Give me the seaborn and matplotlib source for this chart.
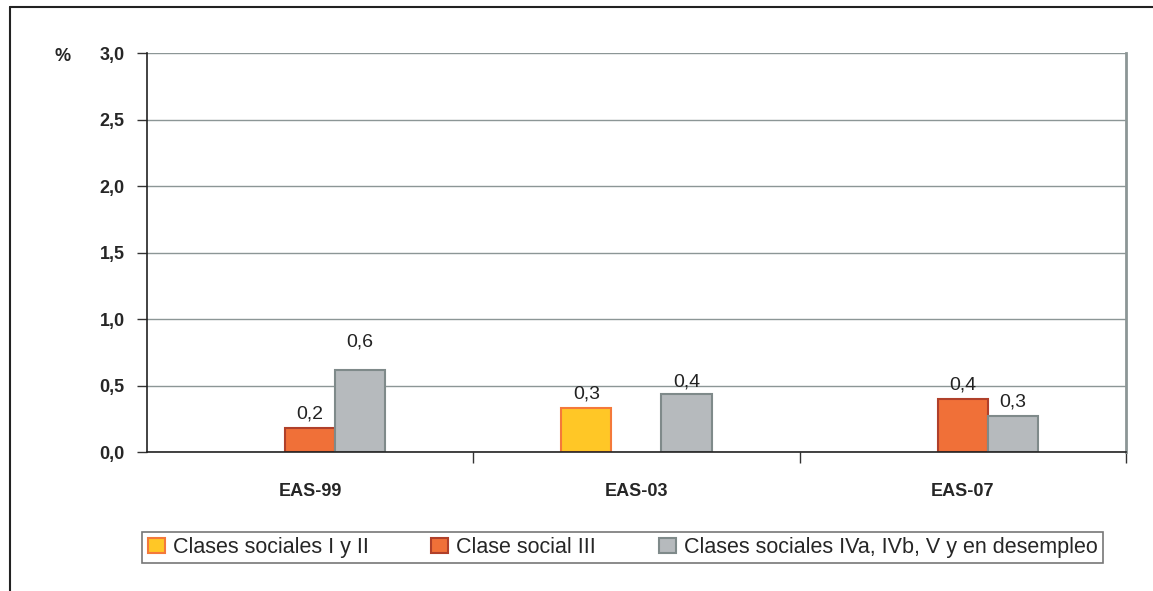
import matplotlib.pyplot as plt
from matplotlib.lines import Line2D
from matplotlib.patches import Patch
import seaborn as sns
import pandas as pd
import numpy as np

# data
surveys = ['EAS-99', 'EAS-03', 'EAS-07']
groups = ['Clases sociales I y II', 'Clase social III',
          'Clases sociales IVa, IVb, V y en desempleo']
vals_I_II = [np.nan, 0.33, np.nan]
vals_III = [0.18, np.nan, 0.40]
vals_IV_V = [0.62, 0.44, 0.27]
yticks = [0.0, 0.5, 1.0, 1.5, 2.0, 2.5, 3.0]

fills = ['#FFC726', '#F07038', '#B6BABD']
edges = ['#F4793A', '#B0402A', '#7F8A8A']

df = pd.DataFrame({
    'survey': surveys * 3,
    'group': [groups[0]] * 3 + [groups[1]] * 3 + [groups[2]] * 3,
    'value': vals_I_II + vals_III + vals_IV_V,
})

sns.set_style('white')
plt.rcParams['font.family'] = ['Liberation Sans', 'DejaVu Sans']

fig = plt.figure(figsize=(11.53, 5.91), dpi=100)
ax = fig.add_axes([0.1275, 0.235, 0.849, 0.675])

sns.barplot(data=df, x='survey', y='value', hue='group', order=surveys,
            hue_order=groups, palette=fills, width=0.46, ax=ax,
            legend=False, errorbar=None, saturation=1)

# colour edges per series
for cont, ec in zip(ax.containers, edges):
    for bar in cont:
        bar.set_edgecolor(ec)
        bar.set_linewidth(1.5)

# value labels, Excel-like placement
label_offsets = {(0, 1): 4, (0, 2): 14, (1, 0): 4, (1, 2): 2, (2, 1): 14, (2, 2): 4}
for gi, cont in enumerate(ax.containers):
    for si, bar in enumerate(cont):
        h = bar.get_height()
        if np.isnan(h) or h == 0:
            continue
        off = label_offsets.get((si, gi), 4)
        ax.annotate(f'{h:.1f}'.replace('.', ','),
                    (bar.get_x() + bar.get_width() / 2, h),
                    xytext=(0, off), textcoords='offset points',
                    ha='center', va='bottom', fontsize=14, color='#222222')

ax.set_ylim(0, 3.0)
ax.set_xlim(-0.5, 2.5)
ax.set_yticks(yticks)
ax.set_yticklabels([f'{t:.1f}'.replace('.', ',') for t in yticks],
                   fontsize=13, fontweight='bold')
ax.set_xticks(range(3))
ax.set_xticklabels(surveys, fontsize=13, fontweight='bold')
ax.set_xticks([0.5, 1.5, 2.5], minor=True)
ax.tick_params(axis='x', which='major', length=0, pad=22)
ax.tick_params(axis='x', which='minor', length=8, width=1, color='#333333', direction='out', bottom=True)
ax.tick_params(axis='y', length=7, width=1, color='#333333', direction='out', left=True, pad=9)
ax.set_xlabel('')
ax.set_ylabel('')

ax.grid(axis='y', color='#8C9696', linewidth=1)
ax.set_axisbelow(True)
for side in ['left', 'bottom']:
    ax.spines[side].set_color('#222222')
    ax.spines[side].set_linewidth(1.2)
ax.spines['top'].set_visible(False)
ax.spines['right'].set_color('#8C9696')
ax.spines['right'].set_linewidth(2)

fig.text(0.054, 0.905, '%', fontsize=13, fontweight='bold', ha='center', va='center')

handles = [Patch(facecolor=f, edgecolor=e, linewidth=1.5) for f, e in zip(fills, edges)]
leg = fig.legend(handles, groups, ncol=3, loc='center', bbox_to_anchor=(0.54, 0.0736),
                 fontsize=15.5, frameon=True, fancybox=False, edgecolor='#555555',
                 handlelength=0.8, handleheight=0.65, handletextpad=0.37, columnspacing=2.9,
                 borderpad=0.25)
leg.get_frame().set_linewidth(1.2)

# outer frame of the chart area (top and left edges)
fig.add_artist(Line2D([0.0087, 1.0], [0.988, 0.988], color='#222222', linewidth=1.5))
fig.add_artist(Line2D([0.0087, 0.0087], [0.0, 0.988], color='#222222', linewidth=1.5))

fig.savefig('out.png', dpi=100)
